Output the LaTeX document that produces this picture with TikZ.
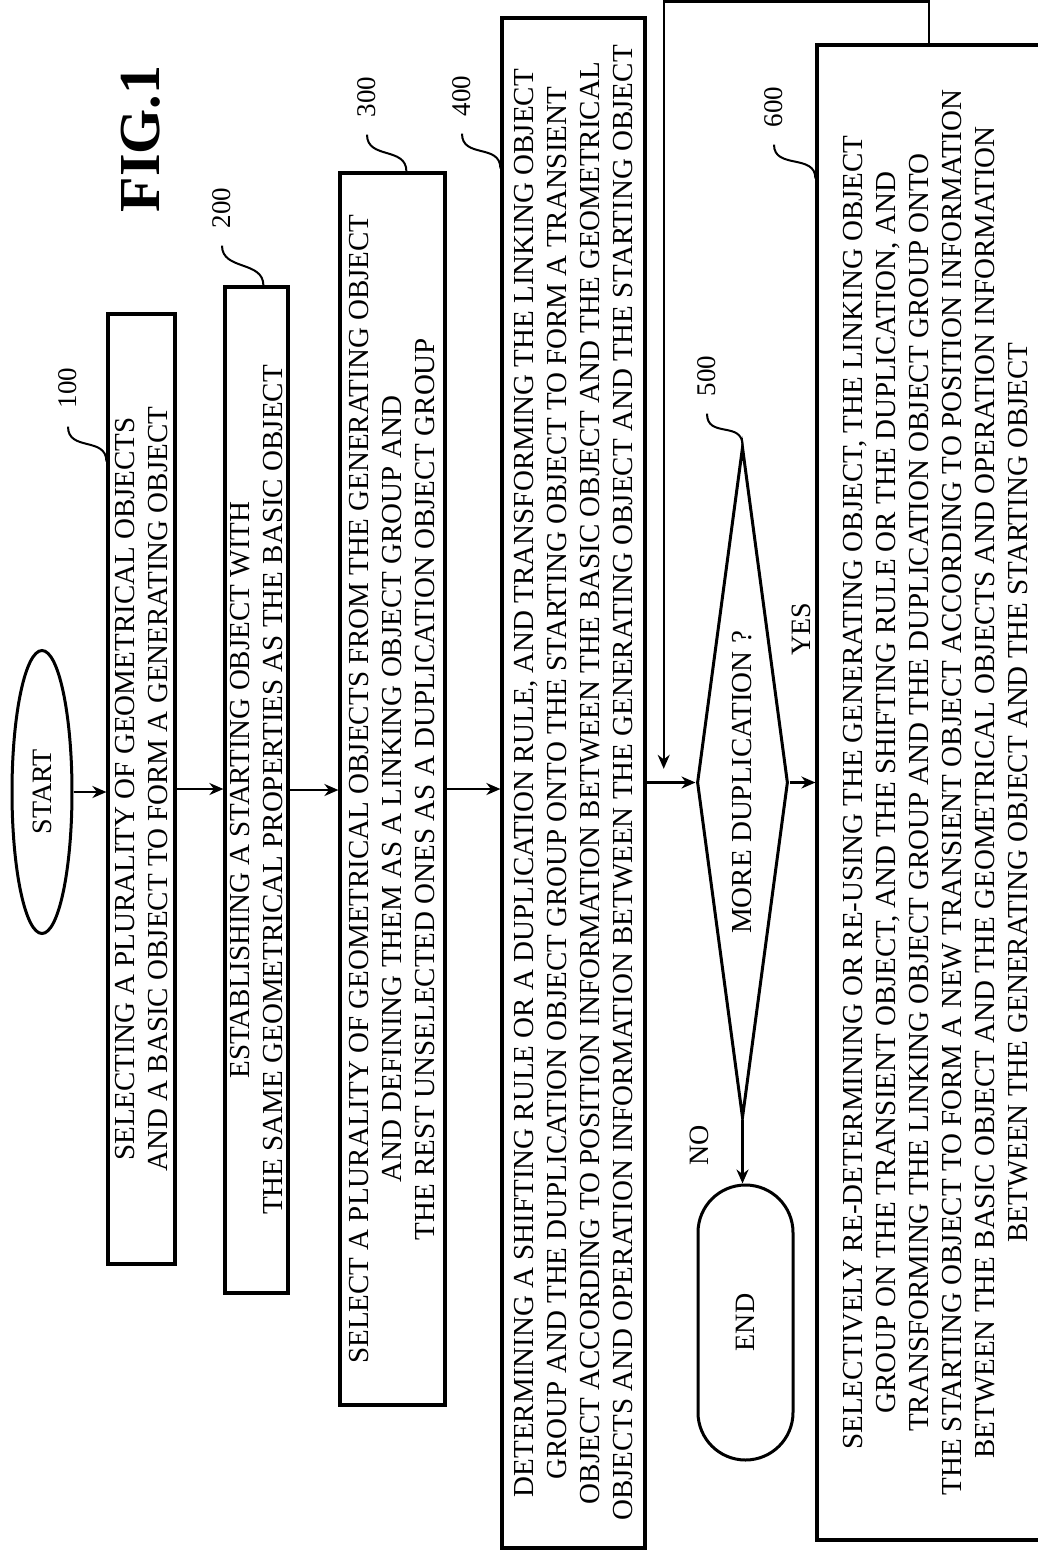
\documentclass[tikz,border=0pt]{standalone}
\usepackage{fontspec}
\setmainfont{Liberation Serif}
\usetikzlibrary{shapes.geometric,shapes.misc,arrows.meta,calc}

\tikzset{
    stepbox/.style={draw,line width=1.6pt,rectangle,rotate=90,align=center,inner sep=0pt,
        font=\fontsize{14.5}{16.5}\selectfont},
    termbox/.style={draw,line width=1.5pt,rotate=90,inner sep=0pt,font=\fontsize{14}{14}\selectfont},
    flowarrow/.style={line width=1.2pt,-{Stealth[length=7pt,width=6pt]}},
    leader/.style={line width=1pt},
    refnum/.style={rotate=90,inner sep=0pt,font=\fontsize{13.5}{13.5}\selectfont},
}

\begin{document}
\begin{tikzpicture}[x=0.5pt,y=-0.5pt]
    \useasboundingbox (0,0) rectangle (1038,1555);

    \node[rotate=90,font=\fontsize{29}{29}\bfseries\selectfont] (fig) at (141,139) {FIG.1};

    % start / end
    \node[termbox,ellipse,minimum width=141.5pt,minimum height=30pt] (start) at (42,792) {START};
    \node[termbox,rounded rectangle,minimum width=137.5pt,minimum height=47.5pt] (stop) at (745.5,1322.5) {END};

    % steps
    \node[stepbox,minimum width=475pt,minimum height=33.5pt] (b100) at (141.5,789)
        {SELECTING A PLURALITY OF GEOMETRICAL OBJECTS\\
         AND A BASIC OBJECT TO FORM A GENERATING OBJECT};
    \node[stepbox,minimum width=503pt,minimum height=31.5pt] (b200) at (256.5,790)
        {ESTABLISHING A STARTING OBJECT WITH\\
         THE SAME GEOMETRICAL PROPERTIES AS THE BASIC OBJECT};
    \node[stepbox,minimum width=616pt,minimum height=52.5pt] (b300) at (392.5,789)
        {SELECT A PLURALITY OF GEOMETRICAL OBJECTS FROM THE GENERATING OBJECT\\
         AND DEFINING THEM AS A LINKING OBJECT GROUP AND\\
         THE REST UNSELECTED ONES AS A DUPLICATION OBJECT GROUP};
    \node[stepbox,minimum width=765pt,minimum height=71.5pt] (b400) at (573.5,783)
        {DETERMINING A SHIFTING RULE OR A DUPLICATION RULE, AND TRANSFORMING THE LINKING OBJECT\\
         GROUP AND THE DUPLICATION OBJECT GROUP ONTO THE STARTING OBJECT TO FORM A TRANSIENT\\
         OBJECT ACCORDING TO POSITION INFORMATION BETWEEN THE BASIC OBJECT AND THE GEOMETRICAL\\
         OBJECTS AND OPERATION INFORMATION BETWEEN THE GENERATING OBJECT AND THE STARTING OBJECT};
    \node[draw,diamond,line width=1.5pt,rotate=90,shape aspect=7.4,inner sep=0pt,
        minimum width=335.5pt,minimum height=45.5pt,font=\fontsize{14.5}{14.5}\selectfont]
        (dup) at (742.5,782.5) {MORE DUPLICATION ?};
    \node[stepbox,minimum width=747.5pt,minimum height=119pt] (b600) at (936,792.5)
        {SELECTIVELY RE-DETERMINING OR RE-USING THE GENERATING OBJECT, THE LINKING OBJECT\\
         GROUP ON THE TRANSIENT OBJECT, AND THE SHIFTING RULE OR THE DUPLICATION, AND\\
         TRANSFORMING THE LINKING OBJECT GROUP AND THE DUPLICATION OBJECT GROUP ONTO\\
         THE STARTING OBJECT TO FORM A NEW TRANSIENT OBJECT ACCORDING TO POSITION INFORMATION\\
         BETWEEN THE BASIC OBJECT AND THE GEOMETRICAL OBJECTS AND OPERATION INFORMATION\\
         BETWEEN THE GENERATING OBJECT AND THE STARTING OBJECT};

    % reference numerals
    \node[refnum] (l100) at (68,388) {100};
    \node[refnum] (l200) at (222,208) {200};
    \node[refnum] (l300) at (367,97) {300};
    \node[refnum] (l400) at (462,96) {400};
    \node[refnum] (l500) at (707,376) {500};
    \node[refnum] (l600) at (774,107) {600};
    \node[refnum,font=\fontsize{14}{14}\selectfont] (yes) at (801,629) {YES};
    \node[refnum,font=\fontsize{14}{14}\selectfont] (no) at (699,1145) {NO};

    \draw[leader] ([yshift=-9pt]l100.west) .. controls +(0,25) and +(0,-25) .. ([yshift=-74.5pt]b100.north east);
    \draw[leader] ([yshift=-8.5pt]l200.west) .. controls +(0,25) and +(0,-25) .. ([xshift=20pt]b200.north east);
    \draw[leader] ([yshift=-8.5pt]l300.west) .. controls +(0,25) and +(0,-25) .. ([xshift=34pt]b300.north east);
    \draw[leader] ([yshift=-8.5pt]l400.west) .. controls +(0,25) and +(0,-25) .. ([yshift=-76pt]b400.north east);
    \draw[leader] ([yshift=-8.5pt]l500.west) .. controls +(0,25) and +(0,-25) .. (dup.east);
    \draw[leader] ([yshift=-8.5pt]l600.west) .. controls +(0,25) and +(0,-25) .. ([yshift=-67.5pt]b600.north east);

    % flow
    \coordinate (merge) at ($(b400.south)!0.35!(dup.north)$);
    \draw[flowarrow] (start.south) -- (start.south -| b100.north);
    \draw[flowarrow] (b100.south) -- (b100.south -| b200.north);
    \draw[flowarrow] (b200.south) -- (b200.south -| b300.north);
    \draw[flowarrow] (b300.south) -- (b300.south -| b400.north);
    \draw[flowarrow] (b400.south |- dup.north) -- (dup.north);
    \draw[flowarrow] (dup.south) -- (dup.south -| b600.north);
    \draw[flowarrow] (dup.west) -- (dup.west |- stop.east);
    \draw[flowarrow] ([xshift=-3.5pt]b600.east) -- ++(0,-42) -| ([yshift=7pt]merge);
\end{tikzpicture}
\end{document}
